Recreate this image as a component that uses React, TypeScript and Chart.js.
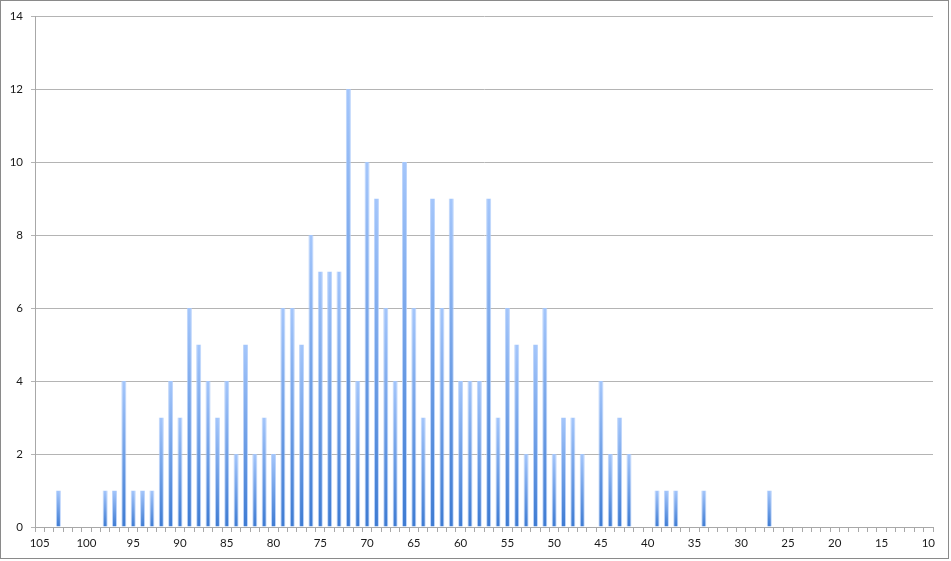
import React, { useEffect, useRef } from "react";
import { Chart, registerables } from "chart.js";

Chart.register(...registerables);

// Categories: 105 down to 10
const categories: string[] = [];
for (let v = 105; v >= 10; v--) categories.push(String(v));

// Counts per category (105 → 10)
const counts105to76 = [0, 0, 1, 0, 0, 0, 0, 1, 1, 4, 1, 1, 1, 3, 4, 3, 6, 5, 4, 3, 4, 2, 5, 2, 3, 2, 6, 6, 5, 8];
const counts75to46 = [7, 7, 7, 12, 4, 10, 9, 6, 4, 10, 6, 3, 9, 6, 9, 4, 4, 4, 9, 3, 6, 5, 2, 5, 6, 2, 3, 3, 2, 0];
const counts45to10 = [4, 2, 3, 2, 0, 0, 1, 1, 1, 0, 0, 1, 0, 0, 0, 0, 0, 0, 1, 0, 0, 0, 0, 0, 0, 0, 0, 0, 0, 0, 0, 0, 0, 0, 0, 0];
const counts = [...counts105to76, ...counts75to46, ...counts45to10];

const yTicksMax = 14;
const yTicksStep = 2;

export default function App() {
  const ref = useRef<HTMLCanvasElement | null>(null);

  useEffect(() => {
    const canvas = ref.current;
    if (!canvas) return;
    const chart = new Chart(canvas, {
      type: "bar",
      data: {
        labels: categories,
        datasets: [
          {
            data: counts,
            backgroundColor: (c: any) => {
              const chartObj = c.chart;
              const y = chartObj.scales?.y;
              const v = c.raw as number;
              if (!y || !v) return "#5b8fdc";
              const top = y.getPixelForValue(v);
              const bottom = y.getPixelForValue(0);
              const g = chartObj.ctx.createLinearGradient(0, top, 0, bottom);
              g.addColorStop(0, "#a4c6fb");
              g.addColorStop(1, "#3e7bd2");
              return g;
            },
            borderColor: "rgba(178,206,250,0.85)",
            borderWidth: { left: 1, right: 1, top: 0, bottom: 0 },
            borderSkipped: false,
            categoryPercentage: 1,
            barPercentage: 0.54,
          },
        ],
      },
      options: {
        animation: false,
        responsive: false,
        maintainAspectRatio: false,
        layout: { padding: { left: 0, right: 18, top: 16, bottom: 0 } },
        plugins: {
          legend: { display: false },
          tooltip: { enabled: false },
        },
        scales: {
          x: {
            type: "category",
            offset: true,
            afterFit: (s: any) => {
              s.height = 34;
            },
            grid: {
              display: true,
              offset: true,
              drawOnChartArea: false,
              drawTicks: true,
              tickLength: 5,
              color: "#a8a8a8",
            },
            border: { display: true, color: "#a8a8a8", width: 1 },
            ticks: {
              autoSkip: false,
              maxRotation: 0,
              minRotation: 0,
              padding: 4,
              color: "#1a1a1a",
              font: { family: "Lato", size: 11.5 },
              callback: function (this: any, _v: any, i: number) {
                const lab = categories[i];
                return Number(lab) % 5 === 0 ? lab : "";
              },
            },
          },
          y: {
            min: 0,
            max: yTicksMax,
            afterFit: (s: any) => {
              s.width = 35;
            },
            grid: {
              color: "#b4b4b4",
              lineWidth: 1,
              drawTicks: true,
              tickLength: 4,
            },
            border: { display: true, color: "#a8a8a8", width: 1 },
            ticks: {
              stepSize: yTicksStep,
              padding: 8,
              color: "#1a1a1a",
              font: { family: "Lato", size: 11.5 },
            },
          },
        },
      },
    });
    return () => chart.destroy();
  }, []);

  return (
    <div style={{ position: "fixed", left: 0, top: 0, width: 951, height: 561, background: "#fff" }}>
      <canvas ref={ref} width={951} height={561} style={{ position: "absolute", left: 0, top: 0, width: 951, height: 561 }} />
      <div
        style={{
          position: "absolute",
          left: 0,
          top: 0,
          width: 947,
          height: 557,
          border: "1px solid #8a8a8a",
          pointerEvents: "none",
        }}
      />
    </div>
  );
}
